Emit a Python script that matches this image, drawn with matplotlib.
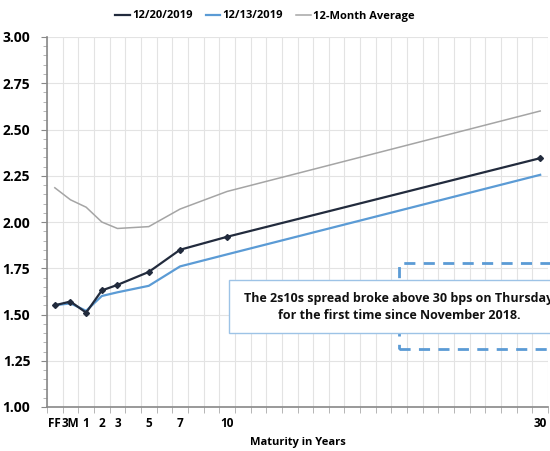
import matplotlib
matplotlib.use("Agg")
import matplotlib.pyplot as plt
from matplotlib.patches import Rectangle
from matplotlib.ticker import MultipleLocator, FixedLocator

# Category axis: FF, 3M, then years 1..30
categories = ["FF", "3M"] + [str(y) for y in range(1, 31)]
shown_labels = ["FF", "3M", "1", "2", "3", "5", "7", "10", "30"]
maturities = ["FF", "3M", "1", "2", "3", "5", "7", "10", "30"]

s_1220 = [1.55, 1.57, 1.51, 1.63, 1.66, 1.73, 1.85, 1.92, 2.345]
s_1213 = [1.55, 1.56, 1.52, 1.60, 1.62, 1.655, 1.76, 1.825, 2.255]
s_avg = [2.185, 2.12, 2.08, 2.00, 1.965, 1.975, 2.07, 2.165, 2.60]

plt.rcParams['font.family'] = ['Open Sans', 'DejaVu Sans']

fig = plt.figure(figsize=(5.5, 4.51), dpi=100)
ax = fig.add_axes([47/550, 1-407/451, (548-47)/550, (407-37)/451])

xpos = [categories.index(m) for m in maturities]

c_dark = "#222B3D"
c_blue = "#5B9BD5"
c_gray = "#A5A5A5"

ax.plot(xpos, s_avg, color=c_gray, lw=1.1, label="12-Month Average", zorder=3)
ax.plot(xpos, s_1213, color=c_blue, lw=1.6, label="12/13/2019", zorder=4)
ax.plot(xpos, s_1220, color=c_dark, lw=1.6, marker="D", ms=3, label="12/20/2019", zorder=5)

ax.set_xlim(-0.5, len(categories) - 0.5)
ax.set_ylim(1.0, 3.0)

# y axis
ax.yaxis.set_major_locator(MultipleLocator(0.25))
ax.yaxis.set_minor_locator(MultipleLocator(0.05))
ax.grid(axis="y", which="major", color="#E3E3E3", lw=0.8)
ax.tick_params(axis="y", which="major", length=4, color="#888888", labelsize=10, pad=8)
ax.tick_params(axis="y", which="minor", length=3, color="#AAAAAA")
ax.set_yticks([1.0 + 0.25*i for i in range(9)])
ax.set_yticklabels([f"{1.0 + 0.25*i:.2f}" for i in range(9)], fontweight="bold")

# x axis: gridlines/ticks at category boundaries, labels at centers
bounds = [i - 0.5 for i in range(len(categories) + 1)]
ax.xaxis.set_minor_locator(FixedLocator(bounds))
ax.grid(axis="x", which="minor", color="#E3E3E3", lw=0.8)
ax.tick_params(axis="x", which="minor", length=4, color="#AAAAAA")
ax.set_xticks([categories.index(l) for l in shown_labels])
ax.set_xticklabels(shown_labels, fontweight="bold", fontsize=8.5)
ax.tick_params(axis="x", which="major", length=0, pad=7)
ax.set_xlabel("Maturity in Years", fontweight="bold", fontsize=8, labelpad=5)

for s in ["top", "right"]:
    ax.spines[s].set_visible(False)
for s in ["left", "bottom"]:
    ax.spines[s].set_color("#888888")
    ax.spines[s].set_linewidth(1.2)

# annotation shapes (in figure coordinates)
fig.patches.append(Rectangle((399/550, 1-349/451), 0.3, (349-263)/451, transform=fig.transFigure,
                             fill=False, edgecolor=c_blue, lw=2, ls=(0, (4, 3)), zorder=6))
fig.patches.append(Rectangle((229/550, 1-333/451), 340/550, (333-280)/451, transform=fig.transFigure,
                             facecolor="white", edgecolor="#9DC3E6", lw=1, zorder=7))
fig.text(399/550, 1-307/451, "The 2s10s spread broke above 30 bps on Thursday\nfor the first time since November 2018.",
         ha="center", va="center", fontsize=9, fontweight="bold", color="#111111",
         linespacing=1.45, zorder=8)

leg = ax.legend(handles=[ax.lines[2], ax.lines[1], ax.lines[0]], loc="center",
                bbox_to_anchor=(265/550, 1-16/451), bbox_transform=fig.transFigure,
                ncol=3, frameon=False, prop={"weight": "bold", "size": 8},
                handlelength=1.3, handletextpad=0.2, columnspacing=1.2)
for h in leg.legend_handles:
    h.set_marker("")

fig.savefig("out.png", dpi=100)
